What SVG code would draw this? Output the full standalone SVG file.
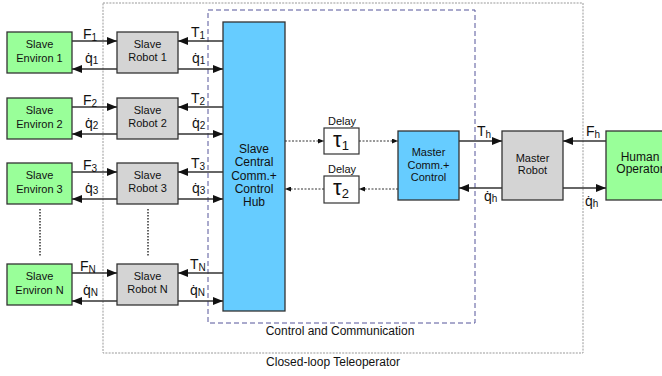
<svg xmlns="http://www.w3.org/2000/svg" width="662" height="376" viewBox="0 0 662 376">
<defs>
<marker id="ah" markerWidth="10" markerHeight="8" refX="10" refY="4" orient="auto" markerUnits="userSpaceOnUse"><path d="M0,0 L10,4 L0,8 z" fill="#111"/></marker>
<marker id="ahs" markerWidth="6" markerHeight="5" refX="6" refY="2.5" orient="auto" markerUnits="userSpaceOnUse"><path d="M0,0 L6,2.5 L0,5 z" fill="#111"/></marker>
<style>
text{font-family:"Liberation Sans",Arial,sans-serif;fill:#111}
.bt{font-size:12px;text-anchor:middle}
.st{font-size:11px;text-anchor:middle}
.lb{font-size:14px}
.sub{font-size:10px}
.env{fill:#99ff99;stroke:#333;stroke-width:1.3}
.rob{fill:#d4d4d4;stroke:#333;stroke-width:1.3}
.hub{fill:#66ccff;stroke:#333;stroke-width:1.3}
.dly{fill:#fff;stroke:#333;stroke-width:1.2}
.ar{stroke:#333;stroke-width:1.5;fill:none;marker-end:url(#ah)}
.da{stroke:#333;stroke-width:1;stroke-dasharray:2,1.5;fill:none;marker-end:url(#ahs)}
.vd{stroke:#333;stroke-width:1.5;stroke-dasharray:1.5,1.5}
</style>
</defs>
<rect x="0" y="0" width="662" height="376" fill="#fff"/>
<g id="closed-loop">
<rect x="103" y="3" width="480" height="350" fill="none" stroke="#999" stroke-width="1" stroke-dasharray="2,1.2"/>
<text x="333" y="366" class="bt">Closed-loop Teleoperator</text>
</g>
<g id="control-comm">
<rect x="208" y="10" width="267" height="313" fill="none" stroke="#55559a" stroke-width="1" stroke-dasharray="5,3"/>
<text x="340" y="335" class="bt">Control and Communication</text>
</g>
<g id="env1"><rect class="env" x="7" y="32" width="65" height="41"/><text class="st" x="39.5" y="48">Slave</text><text class="st" x="39.5" y="62">Environ 1</text></g>
<g id="env2"><rect class="env" x="7" y="98" width="65" height="41"/><text class="st" x="39.5" y="114">Slave</text><text class="st" x="39.5" y="128">Environ 2</text></g>
<g id="env3"><rect class="env" x="7" y="163" width="65" height="41"/><text class="st" x="39.5" y="179">Slave</text><text class="st" x="39.5" y="193">Environ 3</text></g>
<g id="envN"><rect class="env" x="7" y="264" width="65" height="41"/><text class="st" x="39.5" y="280">Slave</text><text class="st" x="39.5" y="294">Environ N</text></g>
<g id="rob1"><rect class="rob" x="117" y="32" width="61" height="41"/><text class="st" x="147.5" y="48">Slave</text><text class="st" x="147.5" y="61">Robot 1</text></g>
<g id="rob2"><rect class="rob" x="117" y="98" width="61" height="41"/><text class="st" x="147.5" y="114">Slave</text><text class="st" x="147.5" y="127">Robot 2</text></g>
<g id="rob3"><rect class="rob" x="117" y="163" width="61" height="41"/><text class="st" x="147.5" y="179">Slave</text><text class="st" x="147.5" y="192">Robot 3</text></g>
<g id="robN"><rect class="rob" x="117" y="264" width="61" height="41"/><text class="st" x="147.5" y="280">Slave</text><text class="st" x="147.5" y="293">Robot N</text></g>
<g id="hub"><rect class="hub" x="223" y="22" width="62" height="289"/>
<text class="bt" x="254" y="152.5">Slave</text><text class="bt" x="254" y="166">Central</text><text class="bt" x="254" y="179.5">Comm.+</text><text class="bt" x="254" y="192.5">Control</text><text class="bt" x="254" y="205.5">Hub</text></g>
<g id="delay1"><text class="st" x="342" y="125">Delay</text><rect class="dly" x="324" y="128" width="35" height="26"/><text x="333" y="147" font-size="22">τ<tspan font-size="13" dy="3">1</tspan></text></g>
<g id="delay2"><text class="st" x="342" y="173">Delay</text><rect class="dly" x="324" y="176" width="35" height="27"/><text x="333" y="195" font-size="22">τ<tspan font-size="13" dy="3">2</tspan></text></g>
<g id="master-comm"><rect class="hub" x="398" y="131" width="61" height="69"/><text class="st" x="428.5" y="156">Master</text><text class="st" x="428.5" y="168.5">Comm.+</text><text class="st" x="428.5" y="181">Control</text></g>
<g id="master-robot"><rect class="rob" x="502" y="131" width="61" height="69"/><text class="st" x="532.5" y="162">Master</text><text class="st" x="532.5" y="174">Robot</text></g>
<g id="human"><rect class="env" x="606" y="131" width="70" height="69"/><text class="bt" x="640" y="161">Human</text><text class="bt" x="640" y="173">Operator</text></g>
<g id="connectors">
<line class="ar" x1="72" y1="41" x2="117" y2="41"/><line class="ar" x1="117" y1="69" x2="72" y2="69"/><line class="ar" x1="223" y1="41" x2="178" y2="41"/><line class="ar" x1="178" y1="69" x2="223" y2="69"/>
<line class="ar" x1="72" y1="107" x2="117" y2="107"/><line class="ar" x1="117" y1="134" x2="72" y2="134"/><line class="ar" x1="223" y1="107" x2="178" y2="107"/><line class="ar" x1="178" y1="134" x2="223" y2="134"/>
<line class="ar" x1="72" y1="172" x2="117" y2="172"/><line class="ar" x1="117" y1="199" x2="72" y2="199"/><line class="ar" x1="223" y1="172" x2="178" y2="172"/><line class="ar" x1="178" y1="199" x2="223" y2="199"/>
<line class="ar" x1="72" y1="273" x2="117" y2="273"/><line class="ar" x1="117" y1="301" x2="72" y2="301"/><line class="ar" x1="223" y1="273" x2="178" y2="273"/><line class="ar" x1="178" y1="301" x2="223" y2="301"/>
<line class="da" x1="285" y1="141" x2="324" y2="141"/><line class="da" x1="359" y1="141" x2="398" y2="141"/>
<line class="da" x1="398" y1="189" x2="359" y2="189"/><line class="da" x1="324" y1="189" x2="285" y2="189"/>
<line class="ar" x1="459" y1="141" x2="502" y2="141"/><line class="ar" x1="502" y1="188" x2="459" y2="188"/>
<line class="ar" x1="606" y1="141" x2="563" y2="141"/><line class="ar" x1="563" y1="188" x2="606" y2="188"/>
<line class="vd" x1="40" y1="209" x2="40" y2="256"/><line class="vd" x1="148" y1="209" x2="148" y2="256"/>
</g>
<g id="labels">
<text class="lb" x="83" y="39">F<tspan class="sub" dy="2">1</tspan></text>
<text class="lb" x="85" y="63">q̇<tspan class="sub" dy="1">1</tspan></text>
<text class="lb" x="191" y="37">T<tspan class="sub" dy="2">1</tspan></text>
<text class="lb" x="192" y="63">q̇<tspan class="sub" dy="1">1</tspan></text>
<text class="lb" x="83" y="105">F<tspan class="sub" dy="2">2</tspan></text>
<text class="lb" x="85" y="128">q̇<tspan class="sub" dy="1">2</tspan></text>
<text class="lb" x="191" y="103">T<tspan class="sub" dy="2">2</tspan></text>
<text class="lb" x="192" y="128">q̇<tspan class="sub" dy="1">2</tspan></text>
<text class="lb" x="83" y="170">F<tspan class="sub" dy="2">3</tspan></text>
<text class="lb" x="85" y="193">q̇<tspan class="sub" dy="1">3</tspan></text>
<text class="lb" x="191" y="168">T<tspan class="sub" dy="2">3</tspan></text>
<text class="lb" x="192" y="193">q̇<tspan class="sub" dy="1">3</tspan></text>
<text class="lb" x="80" y="271">F<tspan class="sub" dy="2">N</tspan></text>
<text class="lb" x="83" y="295">q̇<tspan class="sub" dy="1">N</tspan></text>
<text class="lb" x="190" y="269">T<tspan class="sub" dy="2">N</tspan></text>
<text class="lb" x="190" y="295">q̇<tspan class="sub" dy="1">N</tspan></text>
<text class="lb" x="477" y="136">T<tspan class="sub" dy="2">h</tspan></text>
<text class="lb" x="484" y="201">q̇<tspan class="sub" dy="1">h</tspan></text>
<text class="lb" x="586" y="136">F<tspan class="sub" dy="2">h</tspan></text>
<text class="lb" x="585" y="206">q̇<tspan class="sub" dy="1">h</tspan></text>
</g>
</svg>
